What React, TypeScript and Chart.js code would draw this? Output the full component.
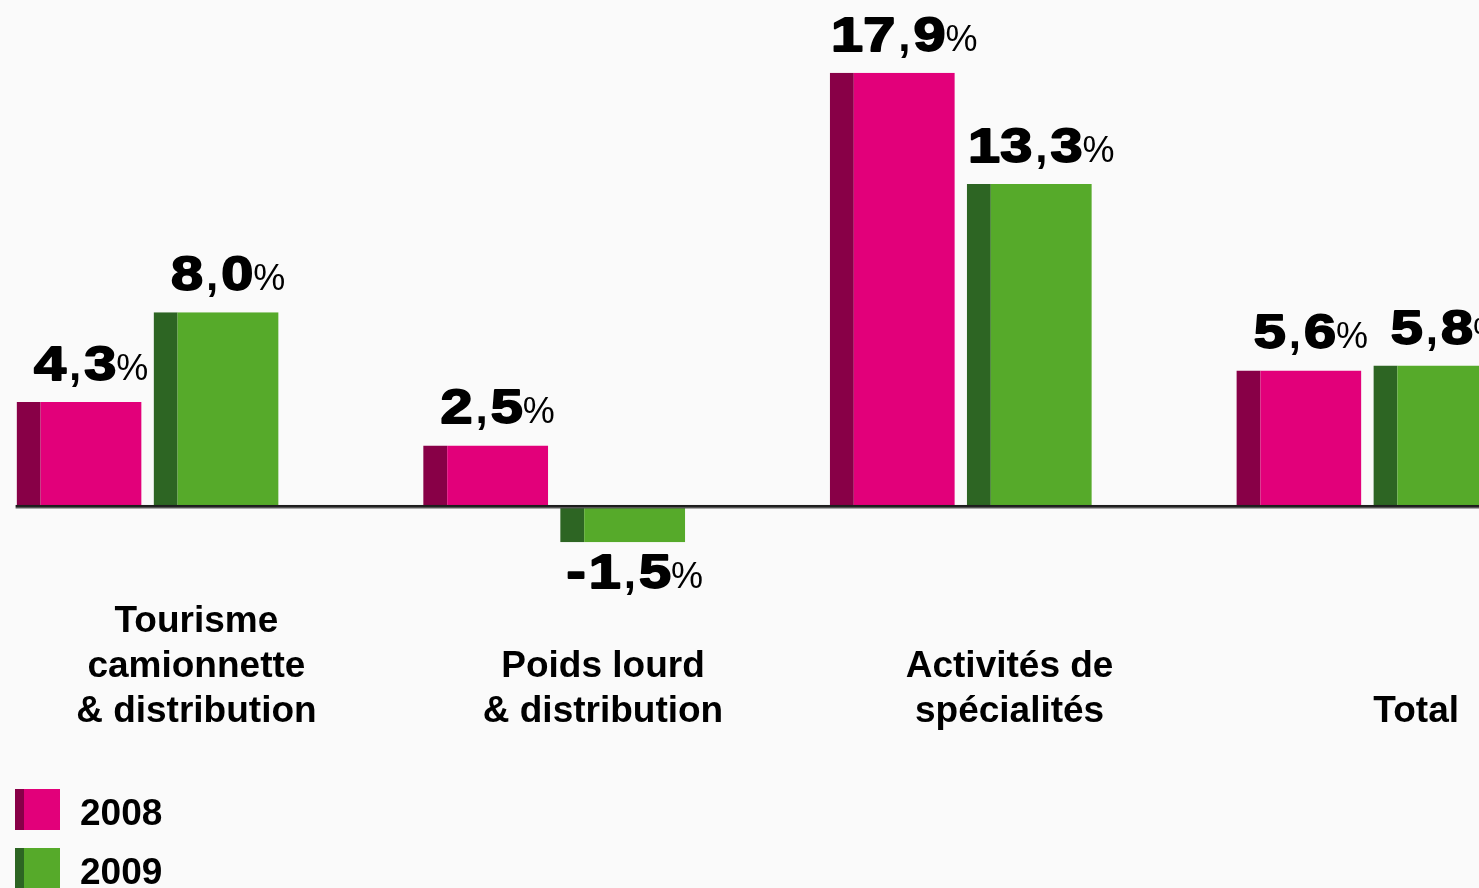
import React, { useEffect, useRef } from "react";
import { Chart, registerables } from "chart.js";

Chart.register(...registerables);

// ---------- data ----------
const CATEGORIES: string[][] = [
  ["Tourisme", "camionnette", "& distribution"],
  ["Poids lourd", "& distribution"],
  ["Activités de", "spécialités"],
  ["Total"],
];
const SERIES_LABELS = ["2008", "2009"];
const VALUES_2008 = [4.3, 2.5, 17.9, 5.6];
const VALUES_2009 = [8.0, -1.5, 13.3, 5.8];

// ---------- styles ----------
const FACE = ["#E2007A", "#56AA2A"];
const SIDE = ["#880047", "#2D6523"];
const BG = "#FAFAFA";
const STRIP = 24;
const LABEL_FONT = "bold 37px 'Liberation Sans', Arial, sans-serif";
const BIG_FONT = "bold 48px 'Liberation Sans', Arial, sans-serif";
const COMMA_FONT = "bold 44px 'Liberation Sans', Arial, sans-serif";
const PCT_FONT = "36px 'Liberation Sans', Arial, sans-serif";
const BIG_SX = 1.2;
const COMMA_PAD = 3;
const LABEL_SHIFT = 0.12;

const zeroLinePlugin = {
  id: "zeroLine",
  afterDatasetsDraw(chart: any) {
    const { ctx, chartArea } = chart;
    const y0 = chart.scales.y.getPixelForValue(0);
    const firstBar: any = chart.getDatasetMeta(0).data[0];
    const x0 = firstBar.x - firstBar.width / 2 - 1;
    ctx.save();
    ctx.fillStyle = "#1c1c1c";
    ctx.fillRect(x0, y0 - 1, chartArea.right - x0, 2);
    ctx.fillStyle = "#555";
    ctx.fillRect(x0, y0 + 1, chartArea.right - x0, 1.5);
    ctx.restore();
  },
};

const valueLabelPlugin = {
  id: "valueLabels",
  afterDatasetsDraw(chart: any) {
    const { ctx } = chart;
    ctx.save();
    ctx.textAlign = "left";
    ctx.textBaseline = "alphabetic";
    ctx.fillStyle = "#000";
    ctx.strokeStyle = "#000";
    chart.data.datasets.forEach((ds: any, di: number) => {
      const meta = chart.getDatasetMeta(di);
      meta.data.forEach((bar: any, i: number) => {
        const v = ds.data[i].y;
        const left = bar.x - bar.width / 2;
        const right = bar.x + bar.width / 2;
        const cx = (left + STRIP + right) / 2;
        const baseline = v >= 0 ? bar.y - 22 : bar.y + 46;
        const [ip, dp] = Math.abs(v).toFixed(1).split(".");
        const parts: { t: string; k: string }[] = [];
        if (v < 0) parts.push({ t: "-", k: "big" });
        parts.push({ t: ip, k: "big" }, { t: ",", k: "comma" }, { t: dp, k: "big" }, { t: "%", k: "pct" });
        const widths = parts.map((p) => {
          if (p.k === "big") {
            ctx.font = BIG_FONT;
            return ctx.measureText(p.t).width * BIG_SX + (p.t === "-" ? 3 : 0);
          }
          if (p.k === "comma") {
            ctx.font = COMMA_FONT;
            return ctx.measureText(p.t).width + 2 * COMMA_PAD;
          }
          ctx.font = PCT_FONT;
          return ctx.measureText(p.t).width;
        });
        const total = widths.reduce((a, b) => a + b, 0);
        let x = cx - total / 2;
        parts.forEach((p, j) => {
          if (p.k === "big") {
            ctx.save();
            ctx.translate(x, baseline);
            ctx.scale(BIG_SX, 1);
            ctx.font = BIG_FONT;
            ctx.lineWidth = 1.8;
            ctx.lineJoin = "round";
            ctx.fillText(p.t, 0, 0);
            ctx.strokeText(p.t, 0, 0);
            ctx.restore();
          } else if (p.k === "comma") {
            ctx.font = COMMA_FONT;
            ctx.fillText(p.t, x + COMMA_PAD, baseline);
          } else {
            ctx.font = PCT_FONT;
            ctx.fillText(p.t, x, baseline);
          }
          x += widths[j];
        });
      });
    });
    ctx.restore();
  },
};

const categoryLabelPlugin = {
  id: "categoryLabels",
  afterDraw(chart: any) {
    const { ctx, chartArea } = chart;
    const xs = chart.scales.x;
    const lastBaseline = chartArea.bottom + 155.5;
    ctx.save();
    ctx.font = LABEL_FONT;
    ctx.fillStyle = "#000";
    ctx.textAlign = "center";
    ctx.textBaseline = "alphabetic";
    CATEGORIES.forEach((lines, i) => {
      const cx = xs.getPixelForValue(i + LABEL_SHIFT);
      lines.forEach((line, j) => {
        const y = lastBaseline - (lines.length - 1 - j) * 45;
        ctx.fillText(line, cx, y);
      });
    });
    ctx.restore();
  },
};

const legendPlugin = {
  id: "customLegend",
  afterDraw(chart: any) {
    const { ctx, chartArea } = chart;
    const top = chartArea.bottom + 222.5;
    ctx.save();
    ctx.font = LABEL_FONT;
    ctx.textAlign = "left";
    ctx.textBaseline = "alphabetic";
    chart.data.datasets.forEach((ds: any, i: number) => {
      const by = top + i * 59;
      const bx = 15;
      ctx.fillStyle = ds.borderColor;
      ctx.fillRect(bx, by, 45, 41);
      ctx.fillStyle = ds.backgroundColor;
      ctx.fillRect(bx + 9, by, 36, 41);
      ctx.fillStyle = "#000";
      ctx.fillText(ds.label, 80, by + 36);
    });
    ctx.restore();
  },
};

export default function App() {
  const canvasRef = useRef<HTMLCanvasElement | null>(null);

  useEffect(() => {
    if (!canvasRef.current) return;
    const series = [VALUES_2008, VALUES_2009];
    const chart = new Chart(canvasRef.current, {
      type: "bar",
      data: {
        datasets: series.map((vals, si) => ({
          label: SERIES_LABELS[si],
          data: vals.map((v, i) => ({ x: i, y: v })),
          backgroundColor: FACE[si],
          borderColor: SIDE[si],
          borderWidth: { left: STRIP, top: 0, right: 0, bottom: 0 },
          borderSkipped: false,
          categoryPercentage: 0.6739,
          barPercentage: 0.9124,
        })),
      } as any,
      options: {
        animation: false,
        responsive: true,
        maintainAspectRatio: false,
        layout: { padding: { left: 0, right: 0, top: 0, bottom: 321.5 } },
        plugins: {
          legend: { display: false },
          tooltip: { enabled: false },
        },
        scales: {
          x: {
            type: "linear",
            display: false,
            offset: false,
            min: -0.363,
            max: 3.2745,
            afterBuildTicks: (axis: any) => {
              axis.ticks = CATEGORIES.map((_, i) => ({ value: i }));
            },
          },
          y: {
            display: false,
            min: -2.5,
            max: 20.9,
          },
        },
      } as any,
      plugins: [zeroLinePlugin, valueLabelPlugin, categoryLabelPlugin, legendPlugin],
    });
    return () => chart.destroy();
  }, []);

  return (
    <div
      style={{
        position: "absolute",
        left: 0,
        top: 0,
        width: 1479,
        height: 888,
        background: BG,
        overflow: "hidden",
      }}
    >
      <canvas ref={canvasRef} />
    </div>
  );
}
